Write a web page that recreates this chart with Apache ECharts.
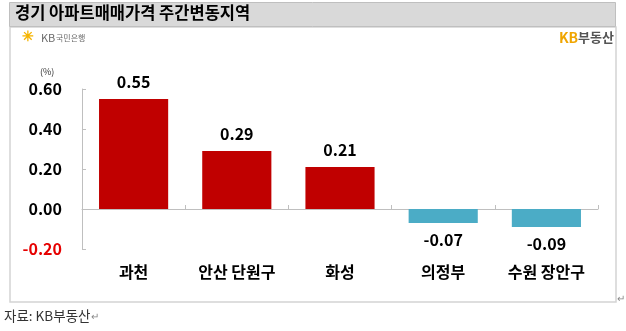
<!DOCTYPE html>
<html>
<head>
<meta charset="utf-8">
<script src="https://cdn.jsdelivr.net/npm/echarts@6/dist/echarts.min.js"></script>
<style>
html,body{margin:0;padding:0;background:#fff;}
#c{width:626px;height:331px;}
</style>
</head>
<body>
<div id="c"></div>
<script>
const categories = ['과천', '안산 단원구', '화성', '의정부', '수원 장안구'];
const values = [0.55, 0.29, 0.21, -0.07, -0.09];
const yTicks = { min: -0.2, max: 0.6, interval: 0.2 };
const titleText = '경기 아파트매매가격 주간변동지역';
const unitText = '(%)';
const sourceText = '자료: KB부동산';

const FONT = '"Noto Sans CJK KR", "Noto Sans", sans-serif';
const chart = echarts.init(document.getElementById('c'), null, {renderer: 'canvas'});

chart.setOption({
  backgroundColor: '#ffffff',
  animation: false,
  grid: { left: 82, right: 28, top: 89, bottom: 82, containLabel: false },
  xAxis: {
    type: 'category',
    data: categories,
    axisLine: { onZero: true, lineStyle: { color: '#bfbfbf', width: 1 } },
    axisTick: { show: true, inside: true, length: 4, alignWithLabel: false, lineStyle: { color: '#bfbfbf' } },
    axisLabel: { margin: 15, fontFamily: FONT, fontSize: 16, fontWeight: 'bold', color: '#000' },
    splitLine: { show: false }
  },
  yAxis: {
    type: 'value',
    min: yTicks.min, max: yTicks.max, interval: yTicks.interval,
    axisLine: { show: true, lineStyle: { color: '#bfbfbf', width: 1 } },
    axisTick: { show: true, inside: true, length: 4, lineStyle: { color: '#bfbfbf' } },
    splitLine: { show: false },
    axisLabel: {
      margin: 20,
      fontFamily: FONT, fontSize: 16, fontWeight: 'bold',
      formatter: v => v.toFixed(2),
      color: v => (Number(v) < 0 ? '#e60000' : '#000000')
    }
  },
  series: [{
    type: 'bar',
    barWidth: '67%',
    data: values.map(v => ({
      value: v,
      itemStyle: { color: v >= 0 ? '#c00000' : '#4bacc6' },
      label: { position: v >= 0 ? 'top' : 'bottom' }
    })),
    label: {
      show: true,
      distance: 9,
      fontFamily: FONT, fontSize: 16, fontWeight: 'bold', color: '#000',
      formatter: p => p.value.toFixed(2)
    }
  }],
  graphic: [
    { type: 'rect', z: -10, silent: true, shape: { x: 10, y: 27, width: 606, height: 275 },
      style: { fill: '#fff', stroke: '#d4d4d4', lineWidth: 1.5 } },
    { type: 'rect', z: -9, silent: true, shape: { x: 9.5, y: 2.5, width: 606, height: 24 },
      style: { fill: '#d9d9d9', stroke: '#bfbfbf', lineWidth: 1 } },
    { type: 'text', silent: true, left: 15, top: 4,
      style: { text: titleText, font: 'bold 16.5px ' + FONT, fill: '#000' } },
    // KB 국민은행 logo
    { type: 'text', silent: true, left: 22, top: 29,
      style: { text: '✳', font: 'bold 14px ' + FONT, fill: '#f5b400' } },
    { type: 'text', silent: true, left: 41, top: 32,
      style: { text: 'KB', font: '11px ' + FONT, fill: '#6b6b6b' } },
    { type: 'text', silent: true, left: 56, top: 34,
      style: { text: '국민은행', font: '8px ' + FONT, fill: '#6b6b6b' } },
    // KB부동산 logo
    { type: 'text', silent: true, left: 559, top: 31,
      style: { text: 'KB', font: 'bold 14px ' + FONT, fill: '#f0a500' } },
    { type: 'text', silent: true, left: 578, top: 31,
      style: { text: '부동산', font: 'bold 13px ' + FONT, fill: '#555555' } },
    // unit
    { type: 'text', silent: true, left: 40, top: 67,
      style: { text: unitText, font: '9px ' + FONT, fill: '#333' } },
    // footer
    { type: 'text', silent: true, left: 4, top: 309,
      style: { text: sourceText, font: '13.5px ' + FONT, fill: '#333' } },
    { type: 'text', silent: true, left: 91, top: 311,
      style: { text: '↵', font: '10px ' + FONT, fill: '#888' } },
    { type: 'text', silent: true, left: 617, top: 293,
      style: { text: '↵', font: '10px ' + FONT, fill: '#888' } }
  ]
});
</script>
</body>
</html>
